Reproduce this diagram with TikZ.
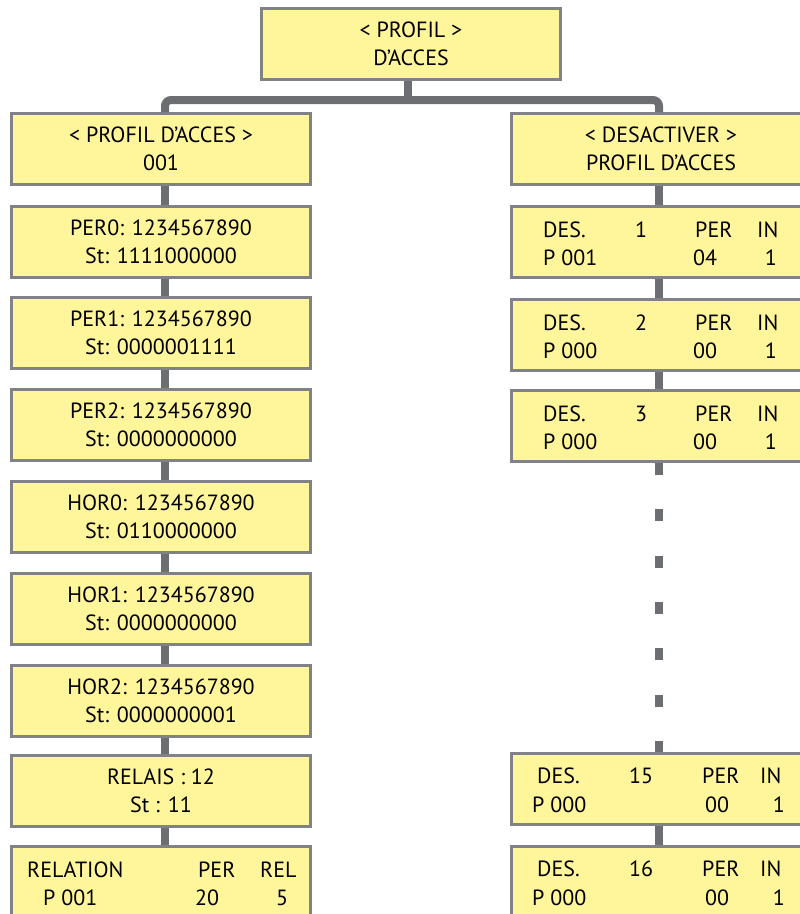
\documentclass[tikz,border=0pt]{standalone}
\usepackage{fontspec}
\setmainfont{PT Sans}
\definecolor{boxfill}{RGB}{255,245,155}
\definecolor{boxline}{RGB}{128,130,133}
\definecolor{linkgray}{RGB}{109,110,113}

% one line of the right column: name, centre y, number, P code, PER value
\newcommand{\desbox}[5]{%
  \node[box] (#1) at (661,#2) {};
  \node[txt, anchor=base west] (#1-des) at ([shift={(\dDes,\dRowA)}]#1.north west) {DES.};
  \node[txt, anchor=base] (#1-num) at ([shift={(\dNum,\dRowA)}]#1.north west) {#3};
  \node[txt, anchor=base west] (#1-per) at ([shift={(\dPer,\dRowA)}]#1.north west) {PER};
  \node[txt, anchor=base west] (#1-in) at ([shift={(\dIn,\dRowA)}]#1.north west) {IN};
  \node[txt, anchor=base west] (#1-p) at ([shift={(\dP,\dRowB)}]#1.north west) {#4};
  \node[txt, anchor=base west] (#1-val) at ([shift={(\dVal,\dRowB)}]#1.north west) {#5};
  \node[txt, anchor=base east] (#1-one) at ([shift={(\dOne,\dRowB)}]#1.north west) {1};
}

\begin{document}
\begin{tikzpicture}[x=1pt,y=-1pt,
    box/.style={draw=boxline, fill=boxfill, line width=3pt, minimum width=299pt,
      minimum height=71pt, inner sep=0pt, align=center, font=\fontsize{22}{28}\selectfont},
    txt/.style={inner sep=0pt, font=\fontsize{22}{28}\selectfont},
    link/.style={draw=linkgray, line width=8pt}]
    \useasboundingbox (0,0) rectangle (800,914);
    \clip (0,0) rectangle (800,914);

    \node[box] (top) at (411,44) {< PROFIL >\\D’ACCES};

    % left column
    \node[box] (l0) at (161,149) {< PROFIL D’ACCES >\\001};
    \node[box] (l1) at (161,242) {PER0: 1234567890\\St: 1111000000};
    \node[box] (l2) at (161,333) {PER1: 1234567890\\St: 0000001111};
    \node[box] (l3) at (161,425) {PER2: 1234567890\\St: 0000000000};
    \node[box] (l4) at (161,517) {HOR0: 1234567890\\St: 0110000000};
    \node[box] (l5) at (161,609) {HOR1: 1234567890\\St: 0000000000};
    \node[box] (l6) at (161,701) {HOR2: 1234567890\\St: 0000000001};
    \node[box] (l7) at (161,791) {RELAIS : 12\\St : 11};
    \node[box] (l8) at (161,882) {};
    \node[txt, anchor=base west] (l8-rel) at ([shift={(17,32)}]l8.north west) {RELATION};
    \node[txt, anchor=base west] (l8-per) at ([shift={(188,32)}]l8.north west) {PER};
    \node[txt, anchor=base west] (l8-rl) at ([shift={(250,32)}]l8.north west) {REL};
    \node[txt, anchor=base west] (l8-p) at ([shift={(33,60)}]l8.north west) {P 001};
    \node[txt, anchor=base west] (l8-val) at ([shift={(185,60)}]l8.north west) {20};
    \node[txt, anchor=base] (l8-num) at ([shift={(272,60)}]l8.north west) {5};

    % right column
    \node[box] (r0) at (661,149) {< DESACTIVER >\\PROFIL D’ACCES};
    \def\dDes{33}\def\dNum{131}\def\dPer{185}\def\dIn{247}
    \def\dP{33}\def\dVal{183}\def\dOne{267}\def\dRowA{32}\def\dRowB{60}
    \desbox{r1}{242}{1}{P 001}{04}
    \desbox{r2}{335}{2}{P 000}{00}
    \desbox{r3}{426}{3}{P 000}{00}
    \def\dDes{27}\def\dNum{131}\def\dPer{192}\def\dIn{250}
    \def\dP{22}\def\dVal{195}\def\dOne{275}\def\dRowA{31}\def\dRowB{60}
    \desbox{r15}{789}{15}{P 000}{00}
    \desbox{r16}{882}{16}{P 000}{00}

    % links
    \coordinate (fork) at (408,100);
    \draw[link] ([xshift=-3pt]top.south) -- (fork);
    \draw[link, rounded corners=6pt] ([xshift=4pt]l0.north) |- (fork) -| ([xshift=-2pt]r0.north);
    \foreach \a/\b in {l0/l1,l1/l2,l2/l3,l3/l4,l4/l5,l5/l6,l6/l7,l7/l8}
      \draw[link] ([xshift=4pt]\a.south) -- ([xshift=4pt]\b.north);
    \foreach \a/\b in {r0/r1,r1/r2,r2/r3,r15/r16}
      \draw[link] ([xshift=-2pt]\a.south) -- ([xshift=-2pt]\b.north);
    \draw[link, dash pattern=on 12pt off 34.33pt] ([xshift=-2pt]r3.south) -- ([xshift=-2pt]r15.north);
\end{tikzpicture}
\end{document}
